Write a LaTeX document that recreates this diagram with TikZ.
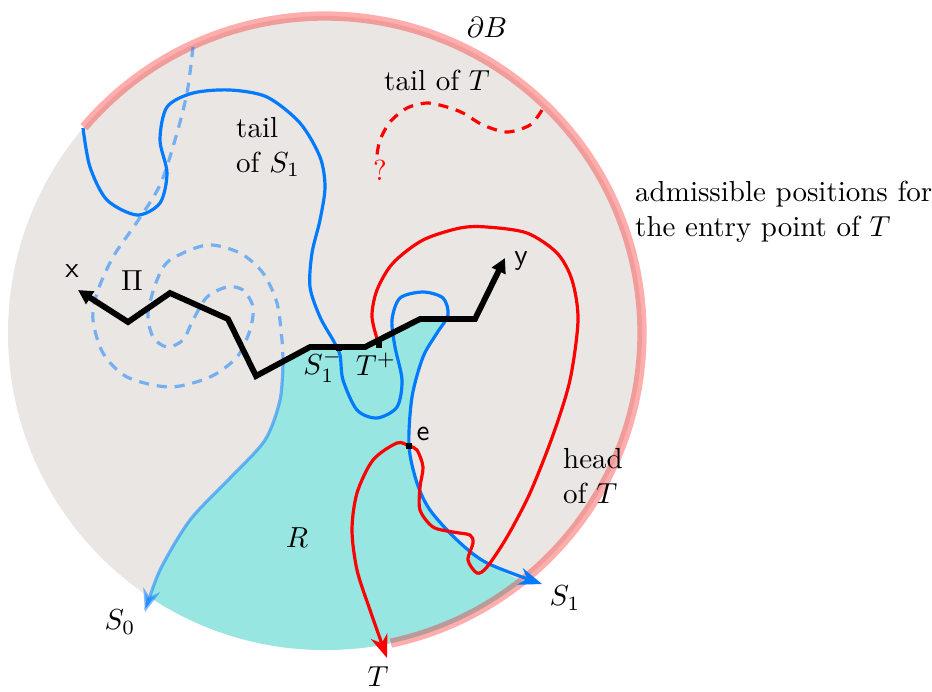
\documentclass[tikz,border=0pt]{standalone}
\usepackage{amsmath}
\usepackage{amssymb}
\usepackage{tikz}
\usepackage{xcolor}
\usetikzlibrary{arrows.meta}
\definecolor{ballgray}{RGB}{234,230,227}
\definecolor{regioncyan}{RGB}{152,230,226}
\definecolor{pathblue}{RGB}{0,122,255}
\tikzset{
    bluepath/.style={
        draw=pathblue,
        line width=1.1pt
    },
    ghostpath/.style={
        draw=pathblue,
        line width=1.1pt,
        opacity=0.5
    },
    redpath/.style={
        draw=red,
        line width=1.1pt
    },
    route/.style={
        draw=black,
        line width=2pt,
        {Triangle[length=5pt,width=5pt]}-{Triangle[length=5pt,width=5pt]}
    },
    boundary/.style={
        draw=red,
        line width=3.2pt,
        opacity=0.32
    },
    dashpat/.style={dash pattern=on 3.5pt off 2.7pt},
    headtip/.style={-{Stealth[length=8pt,width=6pt]}},
    junction/.style={
        rectangle,
        fill=black,
        inner sep=0pt,
        minimum size=2.2pt
    },
    sanslbl/.style={font=\sffamily}
}

\begin{document}
\begin{tikzpicture}[x=0.345pt, y=-0.345pt]

        \useasboundingbox (0,0) rectangle (932,691);

        % the ball and the region R
        \fill[ballgray] (325,333) circle [radius=317];
        \begin{scope}
            \clip (325,333) circle [radius=317];
            \fill[regioncyan] (283,362) -- (310,347) -- (365,347) -- (420,319) -- (446,319)
                -- plot[smooth] coordinates {(446,319) (437,333) (423,357) (412,397) (409,446) (417,483) (430,510) (457,540) (487,563) (520,580) (570,600)}
                -- (570,700) -- (100,700) -- (130,640)
                -- plot[smooth] coordinates {(145,612) (160,570) (190,520) (230,478) (265,440) (280,400) (283,362)}
                -- cycle;
        \end{scope}
        \draw[boundary] (325,333) ++(-139.5:317) arc [start angle=-139.5, end angle=78, radius=317];

        % S_0
        \draw[ghostpath, dashpat] plot[smooth] coordinates {(193,47) (187,93) (175,140) (160,185) (137,222) (113,257) (97,293) (93,320) (103,353) (127,377) (170,387) (210,377) (237,357) (250,330) (253,307) (243,290) (227,287) (207,297) (193,320) (183,340) (167,347) (153,337) (148,313) (157,280) (170,260) (207,245) (240,253) (263,273) (277,303) (282,340) (283,362)};
        \draw[ghostpath, headtip] plot[smooth] coordinates {(283,362) (280,400) (265,440) (230,478) (190,520) (160,570) (145,612)};

        % S_1
        \draw[bluepath, headtip] plot[smooth] coordinates {(83,128) (90,167) (107,200) (137,215) (160,203) (167,173) (160,140) (167,107) (193,93) (230,90) (267,97) (300,123) (320,157) (325,187) (320,220) (312,253) (310,287) (320,317) (333,340) (340,355) (343,380) (357,410) (377,418) (397,407) (402,380) (395,347) (392,320) (400,298) (423,292) (443,298) (448,315) (437,333) (423,357) (412,397) (409,446) (417,483) (430,510) (457,540) (487,563) (542,584)};

        % T
        \draw[redpath, dashpat] plot[smooth] coordinates {(542,110) (530,125) (507,132) (483,125) (463,113) (447,107) (427,103) (407,108) (390,122) (380,140) (377,155)};
        \draw[redpath, headtip] plot[smooth] coordinates {(379,345) (372,317) (377,290) (393,263) (423,240) (460,228) (487,227) (527,233) (557,253) (572,280) (578,320) (570,380) (553,435) (530,493) (507,537) (487,567) (477,573) (468,560) (473,543) (470,535) (453,532) (433,527) (420,510) (420,487) (423,467) (417,450) (409,446) (397,443) (373,460) (357,493) (352,530) (357,570) (370,610) (387,658)};

        % Pi
        \draw[route] (78,290) -- (128,322) -- (170,293) -- (228,319) -- (256,376) -- (310,347) -- (365,347) -- (420,319) -- (475,319) -- (505,258);

        \node (sminus) [junction] at (339,348) {};
        \node (tplus) [junction] at (379,345) {};
        \node (entry) [junction] at (409,446) {};

        % labels
        \node (xlbl) [sanslbl] at (72,271) {x};
        \node (ylbl) [sanslbl] at (521,261) {y};
        \node (elbl) [sanslbl] at (423,434) {e};
        \node (pilbl) at (132,281) {$\Pi$};
        \node (smlbl) at (323,366) {$S_1^-$};
        \node (tplbl) at (376,364) {$T^+$};
        \node (rlbl) at (297,538) {$R$};
        \node (s0lbl) at (120,622) {$S_0$};
        \node (s1lbl) at (565,598) {$S_1$};
        \node (tlbl) at (378,677) {$T$};
        \node (qlbl) [text=red] at (380,170) {?};
        \node (dblbl) at (487,27) {$\partial B$};
        \node (ttail) at (437,80) {tail of $T$};
        \node (stail) [anchor=west, align=left] at (226,147) {tail\\of $S_1$};
        \node (thead) [anchor=west, align=left] at (553,476) {head\\of $T$};
        \node (admis) [anchor=west, align=left] at (625,212) {admissible positions for\\the entry point of $T$};

    \end{tikzpicture}
\end{document}
